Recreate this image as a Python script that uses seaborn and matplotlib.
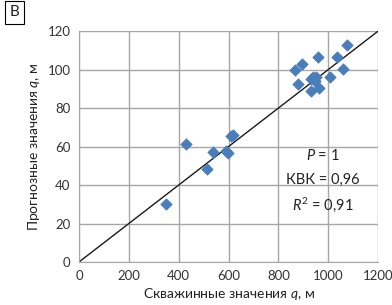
import pandas as pd
import seaborn as sns
import matplotlib.pyplot as plt

well_q = [350, 428, 515, 539, 589, 597, 608, 616,
          867, 880, 894, 930, 932, 940, 947, 951, 957, 964, 1008, 1035, 1058, 1075]
pred_q = [30.3, 61.2, 48.4, 57.0, 57.8, 56.7, 65.6, 66.2,
          99.6, 92.3, 102.7, 95.2, 89.0, 96.0, 94.0, 96.3, 106.7, 90.2, 96.2, 106.4, 100.3, 112.9]

# 1:1 reference line (scaled)
ref_x = [0, 1200]
ref_y = [0, 120]

x_ticks = [0, 200, 400, 600, 800, 1000, 1200]
y_ticks = [0, 20, 40, 60, 80, 100, 120]

stats_lines = ["$P$ = 1", "КВК = 0,96", "$R^2$ = 0,91"]

df = pd.DataFrame({"well": well_q, "pred": pred_q})

sns.set_style("white")
plt.rcParams["font.family"] = ["Lato", "DejaVu Sans"]
plt.rcParams["mathtext.fontset"] = "custom"
plt.rcParams["mathtext.rm"] = "Lato"
plt.rcParams["mathtext.it"] = "Lato:italic"

fig = plt.figure(figsize=(3.92, 3.05), dpi=100)
ax = fig.add_axes([0.2015, 0.141, 0.763, 0.757])

sns.scatterplot(data=df, x="well", y="pred", marker="D", s=34,
                color="#4a7ebb", edgecolor="#4a7ebb", linewidth=0.5, zorder=3, ax=ax)
ax.plot(ref_x, ref_y, color="#1a1a1a", lw=1.0, zorder=2)

ax.set_xlim(0, 1200)
ax.set_ylim(0, 120)
ax.set_xticks(x_ticks)
ax.set_yticks(y_ticks)
ax.grid(True, color="#a6a6a6", lw=1.0)
ax.set_axisbelow(True)
for s in ax.spines.values():
    s.set_visible(False)
ax.spines["left"].set_visible(True)
ax.spines["bottom"].set_visible(True)
ax.spines["left"].set_color("#a6a6a6")
ax.spines["bottom"].set_color("#a6a6a6")
ax.tick_params(length=0, labelsize=9.5, colors="#333333", pad=6)

ax.set_xlabel("Скважинные значения $q$, м", fontsize=10, color="#222222", labelpad=3)
ax.set_ylabel("Прогнозные значения $q$, м", fontsize=10, color="#222222", labelpad=4)

for i, t in enumerate(stats_lines):
    ax.text(0.815, 0.46 - i * 0.105, t, transform=ax.transAxes, ha="center", va="center",
            fontsize=10.5, color="#222222")

fig.text(0.038, 0.96, "В", fontsize=11, ha="center", va="center", color="#222222",
         bbox=dict(boxstyle="square,pad=0.3", fc="white", ec="black", lw=0.8))

plt.savefig("out.png", dpi=100)
